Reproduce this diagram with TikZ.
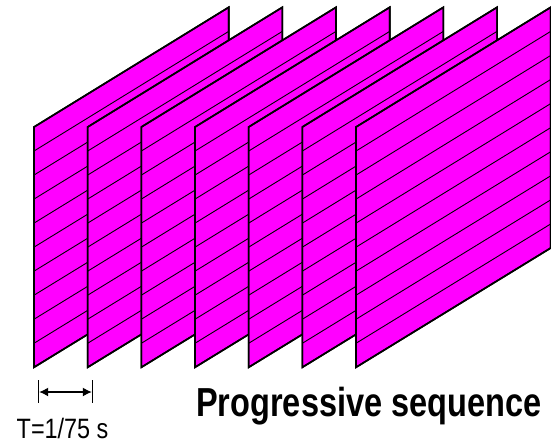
\documentclass[tikz,border=0pt]{standalone}
\usepackage{fontspec}
\setmainfont{Liberation Sans}
\usetikzlibrary{arrows.meta}
\definecolor{frame}{RGB}{255,0,255}
\tikzset{
  x=1pt,y=-1pt,
  field/.style={fill=frame,draw=black,line width=1.6pt,line join=miter},
  scanline/.style={draw=black,line width=0.9pt},
  tick/.style={draw=black,line width=1pt},
  span/.style={draw=black,line width=1.3pt,{Latex[length=9pt,width=9pt]}-{Latex[length=9pt,width=9pt]}},
  lbl/.style={inner sep=0pt,anchor=base west}
}
\begin{document}
\begin{tikzpicture}
\useasboundingbox (0,0) rectangle (551,444);
\foreach \i in {0,...,6}{
  \pgfmathsetmacro{\xl}{34+53.67*\i}
  \pgfmathsetmacro{\xr}{\xl+194.7}
  \path[field] (\xl,127) -- (\xr,7.3) -- (\xr,248) -- (\xl,367.3) -- cycle;
  \foreach \k in {1,...,9}{
    \pgfmathsetmacro{\yl}{127+24.03*\k}
    \pgfmathsetmacro{\yr}{7.3+24.07*\k}
    \path[scanline] (\xl,\yl) -- (\xr,\yr);
  }
  \path[field,fill=none] (\xl,127) -- (\xr,7.3) -- (\xr,248) -- (\xl,367.3) -- cycle;
}
\coordinate (ta) at (38.7,380);
\coordinate (tb) at (38.7,403.3);
\coordinate (tc) at (92.3,380);
\coordinate (td) at (92.3,403.3);
\coordinate (aa) at (39.2,392);
\coordinate (ab) at (91.8,392);
\path[tick] (ta) -- (tb);
\path[tick] (tc) -- (td);
\path[span] (aa) -- (ab);
\node[lbl,font=\fontsize{28}{30}\selectfont] (period) at (16.5,438.3) {\scalebox{0.836}[1]{T=1/75 s}};
\node[lbl,font=\fontsize{40.5}{44}\selectfont\bfseries] (title) at (196,416.7) {\scalebox{0.803}[1]{Progressive sequence}};
\end{tikzpicture}
\end{document}
